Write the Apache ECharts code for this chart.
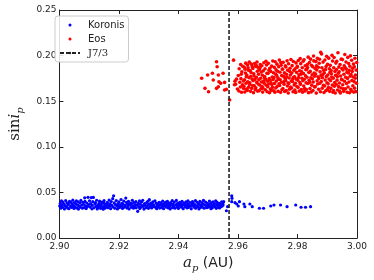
<!DOCTYPE html>
<html><head><meta charset="utf-8">
<script src="https://cdn.jsdelivr.net/npm/echarts@6/dist/echarts.min.js"></script>
<style>html,body{margin:0;padding:0;background:#fff}#c{width:374px;height:280px}</style>
</head><body><div id="c"></div>
<script>
const koronis = [
[2.9001,.0352],[2.9003,.0381],[2.9005,.0327],[2.9007,.0406],[2.9009,.0364],
[2.9010,.0338],[2.9012,.0395],[2.9015,.0371],[2.9017,.0319],[2.9019,.0352],
[2.9021,.0411],[2.9023,.0345],[2.9025,.0386],[2.9027,.0330],[2.9029,.0366],
[2.9030,.0377],[2.9032,.0321],[2.9034,.0402],[2.9037,.0349],[2.9039,.0390],
[2.9041,.0335],[2.9043,.0368],[2.9045,.0415],[2.9047,.0356],[2.9049,.0324],
[2.9050,.0389],[2.9052,.0342],[2.9055,.0374],[2.9057,.0407],[2.9058,.0329],
[2.9061,.0361],[2.9063,.0396],[2.9064,.0317],[2.9066,.0348],[2.9069,.0383],
[2.9070,.0337],[2.9072,.0412],[2.9075,.0359],[2.9077,.0326],[2.9079,.0392],
[2.9081,.0370],[2.9083,.0333],[2.9085,.0440],[2.9086,.0401],[2.9088,.0352],
[2.9090,.0323],[2.9092,.0384],[2.9094,.0345],[2.9096,.0446],[2.9098,.0367],
[2.9101,.0408],[2.9103,.0339],[2.9105,.0376],[2.9107,.0443],[2.9109,.0320],
[2.9110,.0357],[2.9112,.0398],[2.9114,.0445],[2.9116,.0331],[2.9119,.0373],
[2.9121,.0387],[2.9123,.0346],[2.9125,.0414],[2.9127,.0318],[2.9129,.0362],
[2.9130,.0335],[2.9133,.0379],[2.9135,.0404],[2.9137,.0350],[2.9138,.0325],
[2.9141,.0368],[2.9143,.0393],[2.9145,.0341],[2.9147,.0316],[2.9149,.0382],
[2.9150,.0409],[2.9152,.0355],[2.9154,.0328],[2.9157,.0372],[2.9159,.0344],
[2.9161,.0390],[2.9163,.0332],[2.9165,.0363],[2.9167,.0416],[2.9169,.0349],
[2.9170,.0375],[2.9172,.0321],[2.9174,.0400],[2.9176,.0358],[2.9179,.0431],
[2.9180,.0340],[2.9182,.0462],[2.9184,.0385],[2.9186,.0327],[2.9188,.0366],
[2.9191,.0410],[2.9193,.0352],[2.9195,.0319],[2.9197,.0378],[2.9199,.0343],
[2.9200,.0396],[2.9202,.0334],[2.9204,.0361],[2.9207,.0422],[2.9209,.0348],
[2.9210,.0381],[2.9212,.0324],[2.9214,.0369],[2.9216,.0405],[2.9218,.0337],
[2.9221,.0357],[2.9223,.0438],[2.9225,.0391],[2.9227,.0330],[2.9229,.0373],
[2.9230,.0346],[2.9232,.0401],[2.9234,.0318],[2.9236,.0365],[2.9239,.0384],
[2.9241,.0336],[2.9243,.0372],[2.9245,.0413],[2.9247,.0353],[2.9249,.0326],
[2.9250,.0389],[2.9252,.0342],[2.9255,.0367],[2.9257,.0399],[2.9258,.0331],
[2.9261,.0359],[2.9263,.0292],[2.9265,.0380],[2.9267,.0344],[2.9269,.0407],
[2.9270,.0323],[2.9272,.0370],[2.9274,.0338],[2.9276,.0395],[2.9279,.0356],
[2.9280,.0414],[2.9282,.0347],[2.9284,.0317],[2.9286,.0376],[2.9288,.0363],
[2.9291,.0333],[2.9293,.0388],[2.9295,.0351],[2.9297,.0403],[2.9299,.0325],
[2.9300,.0369],[2.9302,.0420],[2.9304,.0341],[2.9307,.0382],[2.9309,.0358],
[2.9310,.0329],[2.9312,.0374],[2.9314,.0397],[2.9316,.0345],[2.9318,.0362],
[2.9321,.0408],[2.9323,.0336],[2.9325,.0383],[2.9327,.0321],[2.9329,.0354],
[2.9330,.0371],[2.9332,.0343],[2.9335,.0392],[2.9337,.0328],[2.9338,.0360],
[2.9341,.0385],[2.9343,.0334],[2.9345,.0366],[2.9347,.0404],[2.9349,.0349],
[2.9350,.0322],[2.9352,.0377],[2.9354,.0356],[2.9357,.0394],[2.9359,.0339],
[2.9361,.0368],[2.9363,.0401],[2.9365,.0331],[2.9367,.0352],[2.9369,.0379],
[2.9370,.0345],[2.9372,.0319],[2.9374,.0387],[2.9376,.0362],[2.9379,.0409],
[2.9380,.0333],[2.9382,.0373],[2.9384,.0351],[2.9386,.0395],[2.9388,.0326],
[2.9391,.0364],[2.9393,.0412],[2.9395,.0340],[2.9397,.0380],[2.9399,.0355],
[2.9400,.0324],[2.9402,.0369],[2.9404,.0391],[2.9407,.0347],[2.9409,.0375],
[2.9410,.0338],[2.9412,.0403],[2.9414,.0358],[2.9416,.0321],[2.9418,.0384],
[2.9421,.0366],[2.9423,.0342],[2.9425,.0396],[2.9427,.0353],[2.9429,.0330],
[2.9430,.0378],[2.9432,.0407],[2.9434,.0335],[2.9436,.0361],[2.9439,.0389],
[2.9441,.0348],[2.9443,.0320],[2.9445,.0372],[2.9447,.0399],[2.9449,.0356],
[2.9450,.0383],[2.9452,.0339],[2.9455,.0365],[2.9457,.0410],[2.9458,.0327],
[2.9461,.0352],[2.9463,.0392],[2.9465,.0344],[2.9467,.0376],[2.9469,.0318],
[2.9470,.0368],[2.9472,.0401],[2.9474,.0335],[2.9476,.0359],[2.9479,.0387],
[2.9480,.0341],[2.9482,.0374],[2.9484,.0413],[2.9486,.0326],[2.9488,.0363],
[2.9491,.0395],[2.9493,.0350],[2.9495,.0332],[2.9497,.0380],[2.9499,.0357],
[2.9500,.0338],[2.9502,.0371],[2.9504,.0405],[2.9507,.0346],[2.9509,.0322],
[2.9510,.0385],[2.9512,.0360],[2.9514,.0331],[2.9516,.0397],[2.9518,.0352],
[2.9521,.0376],[2.9523,.0343],[2.9525,.0408],[2.9527,.0325],[2.9529,.0364],
[2.9530,.0390],[2.9532,.0337],[2.9535,.0358],[2.9537,.0381],[2.9538,.0329],
[2.9541,.0367],[2.9543,.0344],[2.9545,.0396],[2.9547,.0352],[2.9549,.0375],
[2.9552,.0398],[2.9550,.0362],[2.9561,.0299],[2.9565,.0343],
[2.9579,.0461],[2.9580,.0435],[2.9579,.0398],[2.9590,.0387],[2.9596,.0373],
[2.9605,.0398],[2.9601,.0351],[2.9620,.0373],[2.9623,.0343],[2.9640,.0373],
[2.9648,.0343],[2.9672,.0326],[2.9686,.0326],[2.9710,.0351],[2.9721,.0362],
[2.9743,.0362],[2.9765,.0343],[2.9794,.0362],[2.9812,.0337],[2.9827,.0337],
[2.9844,.0343]
];
const eos = [
[2.9478,.1751],[2.9498,.1787],[2.9489,.1641],[2.9501,.1604],[2.9514,.1806],
[2.9517,.1732],[2.9528,.1933],[2.9530,.1878],[2.9534,.1787],[2.9536,.1714],
[2.9542,.1696],[2.9528,.1641],[2.9550,.1806],[2.9555,.1623],[2.9561,.1630],
[2.9534,.1659],[2.9555,.1706],[2.9572,.1513],[2.9585,.1950],[2.9588,.1680],[2.9590,.1720],
[2.9592,.1685],[2.9595,.1742],[2.9598,.1633],
[2.9601,.1781],[2.9603,.1612],[2.9604,.1856],[2.9606,.1708],[2.9608,.1655],[2.9609,.1902],
[2.9610,.1747],[2.9612,.1598],[2.9613,.1823],[2.9615,.1679],[2.9616,.1884],[2.9618,.1721],[2.9619,.1640],[2.9611,.1795],
[2.9620,.1663],[2.9621,.1872],[2.9622,.1734],[2.9623,.1601],[2.9625,.1808],[2.9626,.1917],[2.9627,.1696],[2.9628,.1769],[2.9629,.1632],[2.9624,.1851],
[2.9630,.1788],[2.9631,.1619],[2.9632,.1896],[2.9633,.1712],[2.9635,.1840],[2.9636,.1654],[2.9637,.1757],[2.9638,.1928],[2.9639,.1683],[2.9634,.1866],
[2.9640,.1702],[2.9641,.1835],[2.9642,.1608],[2.9643,.1773],[2.9645,.1906],[2.9646,.1641],[2.9647,.1744],[2.9648,.1879],[2.9649,.1672],[2.9644,.1814],
[2.9650,.1859],[2.9651,.1726],[2.9652,.1594],[2.9653,.1801],[2.9655,.1668],[2.9656,.1913],[2.9657,.1739],[2.9658,.1627],[2.9659,.1882],[2.9654,.1776],
[2.9660,.1647],[2.9661,.1894],[2.9662,.1763],[2.9663,.1706],[2.9665,.1828],[2.9666,.1611],[2.9667,.1871],[2.9668,.1689],[2.9669,.1795],[2.9664,.1930],
[2.9670,.1734],[2.9671,.1615],[2.9672,.1847],[2.9673,.1678],[2.9675,.1903],[2.9676,.1752],[2.9677,.1636],[2.9678,.1819],[2.9679,.1711],[2.9674,.1868],
[2.9680,.1889],[2.9681,.1662],[2.9682,.1784],[2.9683,.1600],[2.9685,.1833],[2.9686,.1720],[2.9687,.1921],[2.9688,.1697],[2.9689,.1756],[2.9684,.1643],
[2.9690,.1771],[2.9691,.1856],[2.9692,.1625],[2.9693,.1740],[2.9695,.1675],[2.9696,.1897],[2.9697,.1806],[2.9698,.1604],[2.9699,.1718],[2.9694,.1937],
[2.9700,.1658],[2.9701,.1803],[2.9702,.1915],[2.9703,.1689],[2.9705,.1747],[2.9706,.1592],[2.9707,.1862],[2.9708,.1729],[2.9709,.1634],[2.9704,.1838],
[2.9710,.1827],[2.9711,.1701],[2.9712,.1619],[2.9713,.1885],[2.9715,.1766],[2.9716,.1652],[2.9717,.1940],[2.9718,.1738],[2.9719,.1812],[2.9714,.1683],
[2.9720,.1614],[2.9721,.1759],[2.9722,.1871],[2.9723,.1695],[2.9725,.1932],[2.9726,.1799],[2.9727,.1646],[2.9728,.1843],[2.9729,.1722],[2.9724,.1598],
[2.9730,.1785],[2.9731,.1906],[2.9732,.1663],[2.9733,.1829],[2.9735,.1608],[2.9736,.1742],[2.9737,.1877],[2.9738,.1690],[2.9739,.1951],[2.9734,.1757],
[2.9740,.1672],[2.9741,.1818],[2.9742,.1735],[2.9743,.1597],[2.9745,.1894],[2.9746,.1707],[2.9747,.1780],[2.9748,.1629],[2.9749,.1852],[2.9744,.1923],
[2.9750,.1849],[2.9751,.1640],[2.9752,.1926],[2.9753,.1773],[2.9755,.1686],[2.9756,.1811],[2.9757,.1606],[2.9758,.1749],[2.9759,.1887],[2.9754,.1714],
[2.9760,.1728],[2.9761,.1876],[2.9762,.1617],[2.9763,.1795],[2.9765,.1944],[2.9766,.1666],[2.9767,.1840],[2.9768,.1703],[2.9769,.1590],[2.9764,.1765],
[2.9770,.1911],[2.9771,.1693],[2.9772,.1754],[2.9773,.1632],[2.9775,.1862],[2.9776,.1787],[2.9777,.1655],[2.9778,.1958],[2.9779,.1721],[2.9774,.1825],
[2.9780,.1645],[2.9781,.1809],[2.9782,.1890],[2.9783,.1716],[2.9785,.1603],[2.9786,.1936],[2.9787,.1762],[2.9788,.1838],[2.9789,.1679],[2.9784,.1745],
[2.9790,.1768],[2.9791,.1621],[2.9792,.1855],[2.9793,.1697],[2.9795,.1920],[2.9796,.1742],[2.9797,.1816],[2.9798,.1660],[2.9799,.1883],[2.9794,.1595],
[2.9800,.1874],[2.9801,.1730],[2.9802,.1652],[2.9803,.1947],[2.9805,.1789],[2.9806,.1611],[2.9807,.1834],[2.9808,.1705],[2.9809,.1967],[2.9804,.1759],
[2.9810,.1685],[2.9811,.1912],[2.9812,.1796],[2.9813,.1628],[2.9815,.1751],[2.9816,.1866],[2.9817,.1599],[2.9818,.1724],[2.9819,.1938],[2.9814,.1821],
[2.9820,.1803],[2.9821,.1667],[2.9822,.1955],[2.9823,.1740],[2.9825,.1612],[2.9826,.1889],[2.9827,.1779],[2.9828,.1846],[2.9829,.1701],[2.9824,.1640],
[2.9830,.1627],[2.9831,.1849],[2.9832,.1762],[2.9833,.1903],[2.9835,.1694],[2.9836,.1983],[2.9837,.1594],[2.9838,.1815],[2.9839,.1730],[2.9834,.1870],
[2.9840,.1925],[2.9841,.1708],[2.9842,.1639],[2.9843,.1827],[2.9845,.1756],[2.9846,.1602],[2.9847,.1895],[2.9848,.1676],[2.9849,.1790],[2.9844,.1961],
[2.9850,.1745],[2.9851,.1879],[2.9852,.1618],[2.9853,.1711],[2.9855,.1942],[2.9856,.1808],[2.9857,.1655],[2.9858,.1774],[2.9859,.1858],[2.9854,.1996],
[2.9860,.1660],[2.9861,.1799],[2.9862,.1934],[2.9863,.1589],[2.9865,.1842],[2.9866,.1723],[2.9867,.1970],[2.9868,.1688],[2.9869,.1767],[2.9864,.1887],
[2.9870,.1873],[2.9871,.1631],[2.9872,.1749],[2.9873,.1916],[2.9875,.1697],[2.9876,.1822],[2.9877,.1604],[2.9878,.2035],[2.9879,.1783],[2.9874,.1960],
[2.9880,.1716],[2.9881,.2018],[2.9882,.1867],[2.9883,.1643],[2.9885,.1792],[2.9886,.1929],[2.9887,.1675],[2.9888,.1838],[2.9889,.1596],[2.9884,.1757],
[2.9890,.1810],[2.9891,.1668],[2.9892,.1952],[2.9893,.1733],[2.9895,.1615],[2.9896,.1880],[2.9897,.1770],[2.9898,.1992],[2.9899,.1702],[2.9894,.1846],
[2.9900,.1627],[2.9901,.1904],[2.9902,.1788],[2.9903,.1690],[2.9905,.1972],[2.9906,.1743],[2.9907,.1856],[2.9908,.1608],[2.9909,.1816],[2.9904,.1651],
[2.9910,.1893],[2.9911,.1726],[2.9912,.1641],[2.9913,.1835],[2.9915,.1765],[2.9916,.2003],[2.9917,.1677],[2.9918,.1941],[2.9919,.1599],[2.9914,.1801],
[2.9920,.1753],[2.9921,.1617],[2.9922,.1866],[2.9923,.1979],[2.9925,.1705],[2.9926,.1827],[2.9927,.1590],[2.9928,.1784],[2.9929,.1918],[2.9924,.1664],
[2.9930,.1686],[2.9931,.1848],[2.9932,.1938],[2.9933,.1731],[2.9935,.1622],[2.9936,.2032],[2.9937,.1806],[2.9938,.1660],[2.9939,.1874],[2.9934,.1769],
[2.9940,.1823],[2.9941,.1700],[2.9942,.1605],[2.9943,.1903],[2.9945,.1777],[2.9946,.1645],[2.9947,.1961],[2.9948,.1739],[2.9949,.1858],[2.9944,.1591],
[2.9950,.1735],[2.9951,.1956],[2.9952,.1680],[2.9953,.1842],[2.9955,.1608],[2.9956,.1795],[2.9957,.1889],[2.9958,.1719],[2.9959,.2012],[2.9954,.1637],
[2.9960,.1869],[2.9961,.1635],[2.9962,.1762],[2.9963,.1930],[2.9965,.1694],[2.9966,.1818],[2.9967,.1598],[2.9968,.1750],[2.9969,.1980],[2.9964,.1852],
[2.9970,.1656],[2.9971,.1809],[2.9972,.1914],[2.9973,.1711],[2.9975,.1593],[2.9976,.1883],[2.9977,.1774],[2.9978,.1997],[2.9979,.1631],[2.9974,.1838],
[2.9980,.1791],[2.9981,.1612],[2.9982,.1949],[2.9983,.1727],[2.9985,.1860],[2.9986,.1669],[2.9987,.1765],[2.9988,.1907],[2.9989,.1600],[2.9984,.1826],
[2.9990,.1715],[2.9991,.1877],[2.9992,.1643],[2.9993,.1971],[2.9995,.1786],[2.9996,.1605],[2.9997,.1841],[2.9998,.1698],[2.9999,.1924],[2.9994,.1752]
];
const resonanceA = 2.957;
const j73 = [[resonanceA, 0], [resonanceA, 0.25]];
const seriesNames = ['Koronis', 'Eos', 'J7/3'];
const xRange = [2.90, 3.00], xStep = 0.02;
const yRange = [0.00, 0.25], yStep = 0.05;

const ink = '#222';
const tickFont = {fontFamily: 'DejaVu Sans', fontSize: 9, color: ink};
function xAxisDef(pos, labels) {
  return {
    type: 'value', position: pos, min: xRange[0], max: xRange[1], interval: xStep,
    axisLine: {show: true, onZero: false, lineStyle: {color: ink, width: 1}},
    axisTick: {show: true, inside: true, length: 4, lineStyle: {color: ink}},
    splitLine: {show: false},
    axisLabel: Object.assign({show: labels, margin: 4, formatter: v => v.toFixed(2)}, tickFont)
  };
}
function yAxisDef(pos, labels) {
  return {
    type: 'value', position: pos, min: yRange[0], max: yRange[1], interval: yStep,
    axisLine: {show: true, onZero: false, lineStyle: {color: ink, width: 1}},
    axisTick: {show: true, inside: true, length: 4, lineStyle: {color: ink}},
    splitLine: {show: false},
    axisLabel: Object.assign({show: labels, margin: 3, formatter: v => v.toFixed(2)}, tickFont)
  };
}
const xa = xAxisDef('bottom', true);
xa.name = '{i|a}{s|p}{t| (AU)}';
xa.nameLocation = 'middle';
xa.nameGap = 15;
xa.nameTextStyle = {rich: {
  i: {fontFamily: 'DejaVu Serif', fontStyle: 'italic', fontSize: 15, color: ink, lineHeight: 20, verticalAlign: 'middle'},
  s: {fontFamily: 'DejaVu Serif', fontStyle: 'italic', fontSize: 10, color: ink, lineHeight: 10, verticalAlign: 'bottom'},
  t: {fontFamily: 'DejaVu Sans', fontSize: 14, color: ink, lineHeight: 20, verticalAlign: 'middle'}
}};
const ya = yAxisDef('left', true);
ya.name = '{r|sin}{i|i}{s|p}';
ya.nameLocation = 'middle';
ya.nameGap = 27;
ya.nameRotate = 90;
ya.nameTextStyle = {rich: {
  r: {fontFamily: 'DejaVu Serif', fontSize: 15, color: ink, lineHeight: 20, verticalAlign: 'middle'},
  i: {fontFamily: 'DejaVu Serif', fontStyle: 'italic', fontSize: 15, color: ink, lineHeight: 20, verticalAlign: 'middle'},
  s: {fontFamily: 'DejaVu Serif', fontStyle: 'italic', fontSize: 10, color: ink, lineHeight: 10, verticalAlign: 'bottom'}
}};

const chart = echarts.init(document.getElementById('c'), null, {renderer: 'canvas'});
chart.setOption({
  animation: false,
  backgroundColor: '#fff',
  grid: {left: 51, right: 17, top: 10, bottom: 42},
  legend: {
    orient: 'vertical', left: 55, top: 16,
    padding: [3, 4, 3, 4], itemGap: 2, itemWidth: 20, itemHeight: 3,
    borderColor: '#ccc', borderWidth: 1, borderRadius: 3,
    backgroundColor: 'rgba(255,255,255,0.85)',
    data: seriesNames,
    formatter: n => n === 'J7/3' ? '{s|J7/3}' : n,
    textStyle: {fontFamily: 'DejaVu Sans', fontSize: 10, color: ink, lineHeight: 12, padding: [0, 0, 0, 3],
      rich: {s: {fontFamily: 'DejaVu Serif', fontSize: 10, color: ink, lineHeight: 12}}}
  },
  xAxis: [xa, xAxisDef('top', false)],
  yAxis: [ya, yAxisDef('right', false)],
  series: [
    {name: seriesNames[0], type: 'scatter', data: koronis, symbol: 'circle', symbolSize: 3.2,
     itemStyle: {color: '#0000ff', opacity: 1}, silent: true},
    {name: seriesNames[1], type: 'scatter', data: eos, symbol: 'circle', symbolSize: 3.6,
     itemStyle: {color: '#ff0000', opacity: 1}, silent: true},
    {name: seriesNames[2], type: 'line', data: j73, symbol: 'none', showSymbol: false,
     lineStyle: {color: ink, width: 1.6, type: [4, 2]}, itemStyle: {color: ink}, silent: true}
  ]
});
</script>
</body></html>
